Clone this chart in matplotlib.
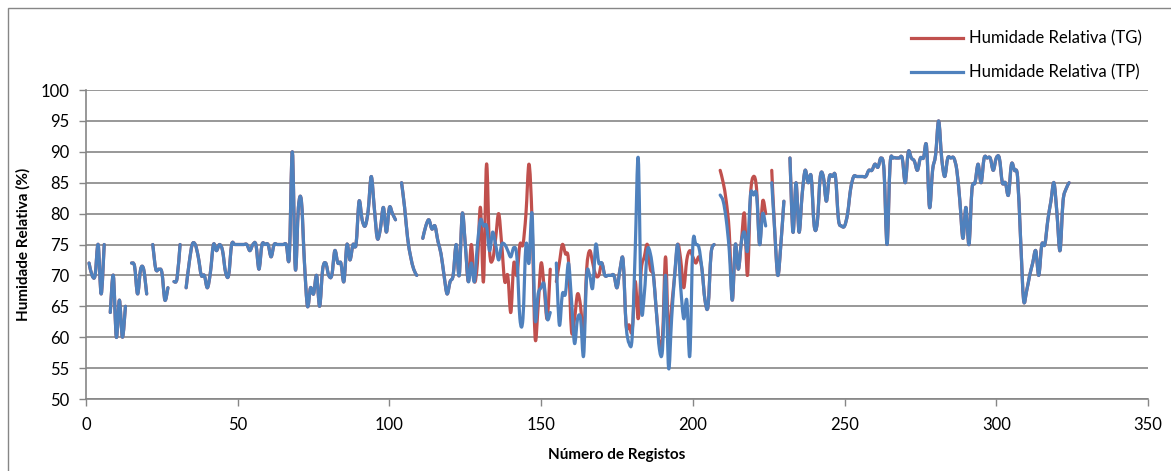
import numpy as np
import matplotlib
matplotlib.use("Agg")
import matplotlib.pyplot as plt
from matplotlib.path import Path
from matplotlib.patches import PathPatch, Rectangle
from matplotlib.lines import Line2D

N = np.nan

# Humidade relativa (TP), registos 1..324 (NaN = falha de registo)
tp = [
    72, 70, 70, 75, 67, 75, N, 64, 70, 60,
    66, 60, 65, N, 72, 71.5, 67, 71, 71, 67,
    N, 75, 71, 71, 70.5, 66, 68, N, 69, 69.5,
    75, N, 68, 72, 75, 75, 73, 70, 70, 68,
    70.5, 75, 74, 75, 74, 70.5, 70, 75, 75, 75,
    75, 75, 75, 74, 75, 75, 71, 75, 75, 75,
    73, 75, 75, 75, 75, 75, 73, 90, 71, 81,
    82, 72, 65, 68, 67, 70, 65, 71, 72, 70,
    70, 74, 72, 72, 69, 75, 72.5, 75, 75, 82,
    79, 78, 80.5, 86, 81, 76, 77.5, 81, 77, 81,
    80, 79, N, 85, 81, 76, 73, 71, 70, N,
    76, 78, 79, 77.5, 78, 75.5, 73.5, 70, 67, 69,
    70, 75, 70, 80, 75, 69, 72, 69, 75, 79,
    78, 78, 74, 77, 75, 72.5, 75, 75, 74, 73,
    74.5, 73, 63, 63, 75, 72, 80, 63, 67, 68,
    68.5, 63, 64, N, 72, 62, 67, 67, 72, 66,
    59, 63, 63, 57, 70, 70, 68, 75, 72, 72,
    70, 70, 70, 70, 68, 71, 72.5, 62, 59, 60,
    74, 89, 65, 67, 74, 73.5, 70, 64, 58, 58,
    70, 55, 63, 70, 75, 68, 63, 66, 57, 75,
    75, 74.5, 71, 66, 65, 73.5, 75, N, 83, 82,
    79, 74, 66, 75, 71, 75.5, 77, 74, 83, 83,
    83, 75, 80, 78, N, 85, 77, 70, 75, 82,
    N, 89, 77, 85, 77, 83, 87, 85, 86, 78,
    78.5, 86, 86, 82, 86, 86, 86, 79, 78, 78,
    80, 84, 86, 86, 86, 86, 86, 87, 87, 88,
    87.5, 89, 87, 75, 88, 89, 89, 89, 89, 85,
    90, 89, 88.5, 87, 89, 89, 91, 81, 87, 89.5,
    95, 89, 86, 89, 89, 89, 87, 82, 76, 81,
    75, 84, 85, 88, 85, 89, 89, 89, 87, 89,
    89, 85, 85, 83, 88, 87, 86, 76, 66, 67.5,
    70, 72, 74, 70, 75, 75, 79, 82, 85, 80,
    74, 82, 84, 85,
]

# Humidade relativa (TG): registos 121..230, onde difere da TP
tg_mid = [
    70, 75, 70, 80, 75, 69, 75, 69, 72, 81,
    69, 88, 74, 72.5, 76, 80, 75, 69, 70, 64,
    72, 70, 75, 75, 80, 88, 79, 60, 65, 72,
    68, 63, 71, N, 69, 72, 75, 73.5, 72.5, 61,
    63, 67, 65, 60, 71, 74, 72, 70, 70, 72,
    70, 70, 70, 70, 68, 71, 72.5, 62, 62, 61,
    69, 63, 71, 73, 75, 71, 70, 64, 59, 60,
    73, 60, 65, 70, 75, 72.5, 68, 72.5, 74, 73,
    72, 73, 71, 66, 65, 73.5, 75, N, 87, 85,
    82, 77, 66, 75, 71, 75.5, 80, 70, 83, 86,
    84, 75, 82, 80, N, 87, 77, 70, 75, 82,
]
tg = tp[:120] + tg_mid + tp[230:]

registos = np.arange(1, len(tp) + 1)

RED = "#C0504D"
BLUE = "#4F81BD"
GRID = "#868686"


def smooth_path(x, y):
    """Smoothed line (cubic Bezier through each run of valid points)."""
    x = np.asarray(x, float)
    y = np.asarray(y, float)
    valid = ~np.isnan(y)
    verts, codes = [], []
    i = 0
    while i < len(y):
        if not valid[i]:
            i += 1
            continue
        j = i
        while j < len(y) and valid[j]:
            j += 1
        px, py = x[i:j], y[i:j]
        n = len(px)
        verts.append((px[0], py[0]))
        codes.append(Path.MOVETO)
        for k in range(n - 1):
            k0 = max(k - 1, 0)
            k3 = min(k + 2, n - 1)
            c1 = (px[k] + (px[k + 1] - px[k0]) / 6, py[k] + (py[k + 1] - py[k0]) / 6)
            c2 = (px[k + 1] - (px[k3] - px[k]) / 6, py[k + 1] - (py[k3] - py[k]) / 6)
            verts += [c1, c2, (px[k + 1], py[k + 1])]
            codes += [Path.CURVE4] * 3
        i = j
    return Path(verts, codes)


plt.rcParams["font.family"] = ["Lato", "DejaVu Sans"]

fig = plt.figure(figsize=(11.71, 4.71), dpi=100)
ax = fig.add_axes([86 / 1171, 1 - 399 / 471, (1148 - 86) / 1171, (399 - 90) / 471])

for serie, cor in ((tg, RED), (tp, BLUE)):
    ax.add_patch(PathPatch(smooth_path(registos, serie), facecolor="none",
                           edgecolor=cor, lw=2.3, capstyle="round",
                           joinstyle="round", zorder=3))

ax.set_xlim(0, 350)
ax.set_ylim(50, 100)
ax.set_xticks(np.arange(0, 351, 50))
ax.set_yticks(np.arange(50, 101, 5))
ax.yaxis.grid(True, color=GRID, lw=1.2)
ax.set_axisbelow(True)
for lado in ("top", "right"):
    ax.spines[lado].set_visible(False)
for lado in ("left", "bottom"):
    ax.spines[lado].set_color(GRID)
    ax.spines[lado].set_linewidth(1.2)
ax.tick_params(axis="both", direction="out", length=5, width=1, color=GRID,
               labelsize=12, labelcolor="black")
ax.tick_params(axis="x", pad=8)
ax.tick_params(axis="y", pad=7)

ax.set_xlabel("Número de Registos", fontsize=11, fontweight="bold", labelpad=11)
ax.set_ylabel("Humidade Relativa (%)", fontsize=11, fontweight="bold", labelpad=7)

handles = [Line2D([], [], color=RED, lw=2.3), Line2D([], [], color=BLUE, lw=2.3)]
fig.legend(handles, ["Humidade Relativa (TG)", "Humidade Relativa (TP)"],
           loc="upper left", bbox_to_anchor=(903 / 1171, 1 - 22 / 471),
           frameon=False, fontsize=12, handlelength=3.1, handletextpad=0.35,
           labelspacing=1.1, borderpad=0)

# chart area border
fig.patches.append(Rectangle((8 / 1171, -0.1), 1.2, 1.1 - 8 / 471,
                             transform=fig.transFigure, fill=False,
                             edgecolor=GRID, lw=1))

fig.savefig("out.png", dpi=100)
